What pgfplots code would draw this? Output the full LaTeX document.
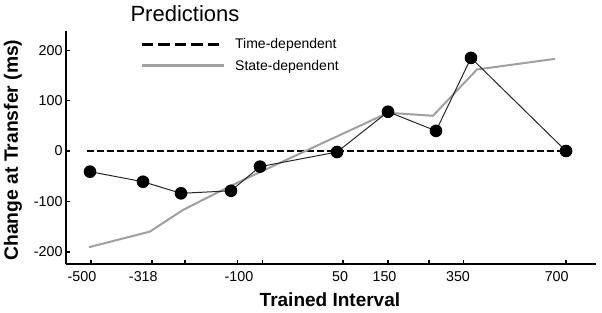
\documentclass[border=0pt]{standalone}
\usepackage{fontspec}
\setmainfont{Liberation Sans}
\usepackage{pgfplots}
\pgfplotsset{compat=1.18}
\definecolor{stategray}{RGB}{160,160,160}
\definecolor{datadark}{RGB}{40,40,40}
\begin{document}
\begin{tikzpicture}
\begin{axis}[
  scale only axis,
  width=530pt, height=233.6pt,
  xmin=66, xmax=596,
  ymin=-225, ymax=239,
  axis lines*=left,
  axis line style={line width=1.8pt},
  tick align=inside,
  major tick length=4pt,
  tick style={line width=1.6pt, black},
  xtick pos=bottom, ytick pos=left,
  xtick={90.7,151.7,185,237.3,262.3,342.7,387.7,429,463.3,565.7},
  xticklabels={},
  extra x ticks={82,143.3,239,340,384.5,458,556.7},
  extra x tick labels={-500,-318,-100,50,150,350,700},
  extra x tick style={major tick length=0pt, tick style={draw=none}},
  ytick={-200,-100,0,100,200},
  /pgf/number format/assume math mode=true,
  ticklabel style={font=\fontsize{14.3}{16}\selectfont},
  xticklabel style={yshift=-4pt},
  xlabel={Trained Interval},
  xlabel style={at={(0.498,-0.153)}, anchor=center, font=\fontsize{19}{22}\selectfont\bfseries},
  ylabel={Change at Transfer (ms)},
  ylabel style={at={(-0.1,0.489)}, anchor=center, font=\fontsize{19.3}{22}\selectfont\bfseries},
  legend image code/.code={\draw[#1] (0pt,0pt) -- (82pt,0pt);},
  legend style={at={(0.1396,0.977)}, anchor=north west, draw=none, fill=none,
    font=\fontsize{14}{16}\selectfont, row sep=6pt, inner sep=0pt,
    /tikz/every odd column/.append style={column sep=8pt}},
  legend cell align=left,
  clip=false,
]
\coordinate (O) at (rel axis cs:0,0);
\node[font=\fontsize{22}{24}\selectfont, anchor=center] at (rel axis cs:0.2245,1.0715) {Predictions};
\addplot[forget plot, black, line width=1.4pt, dash pattern=on 6.5pt off 3.5pt] coordinates {(87,0) (566,0)};
\addplot[forget plot, stategray, line width=2pt] coordinates {
(89,-191) (150,-160) (183,-117) (231,-69) (262,-40) (388,76) (433,70) (477,162) (555,183)};
\addplot[forget plot, datadark, line width=1pt, mark=*, mark size=5.8pt, mark options={fill=black, draw=black}] coordinates {
(90,-41) (143,-61) (181,-84) (231,-79) (260,-31) (337,-2) (388,78) (436,40) (471,185) (566,0)};
\addlegendimage{black, line width=3pt, dash pattern=on 11.5pt off 5pt}
\addlegendentry{Time-dependent}
\addlegendimage{stategray, line width=3pt}
\addlegendentry{State-dependent}
\end{axis}
\pgfresetboundingbox
\path[use as bounding box] (O) ++(-66pt,-48.7pt) rectangle ++(602pt,313pt);
\end{tikzpicture}
\end{document}
